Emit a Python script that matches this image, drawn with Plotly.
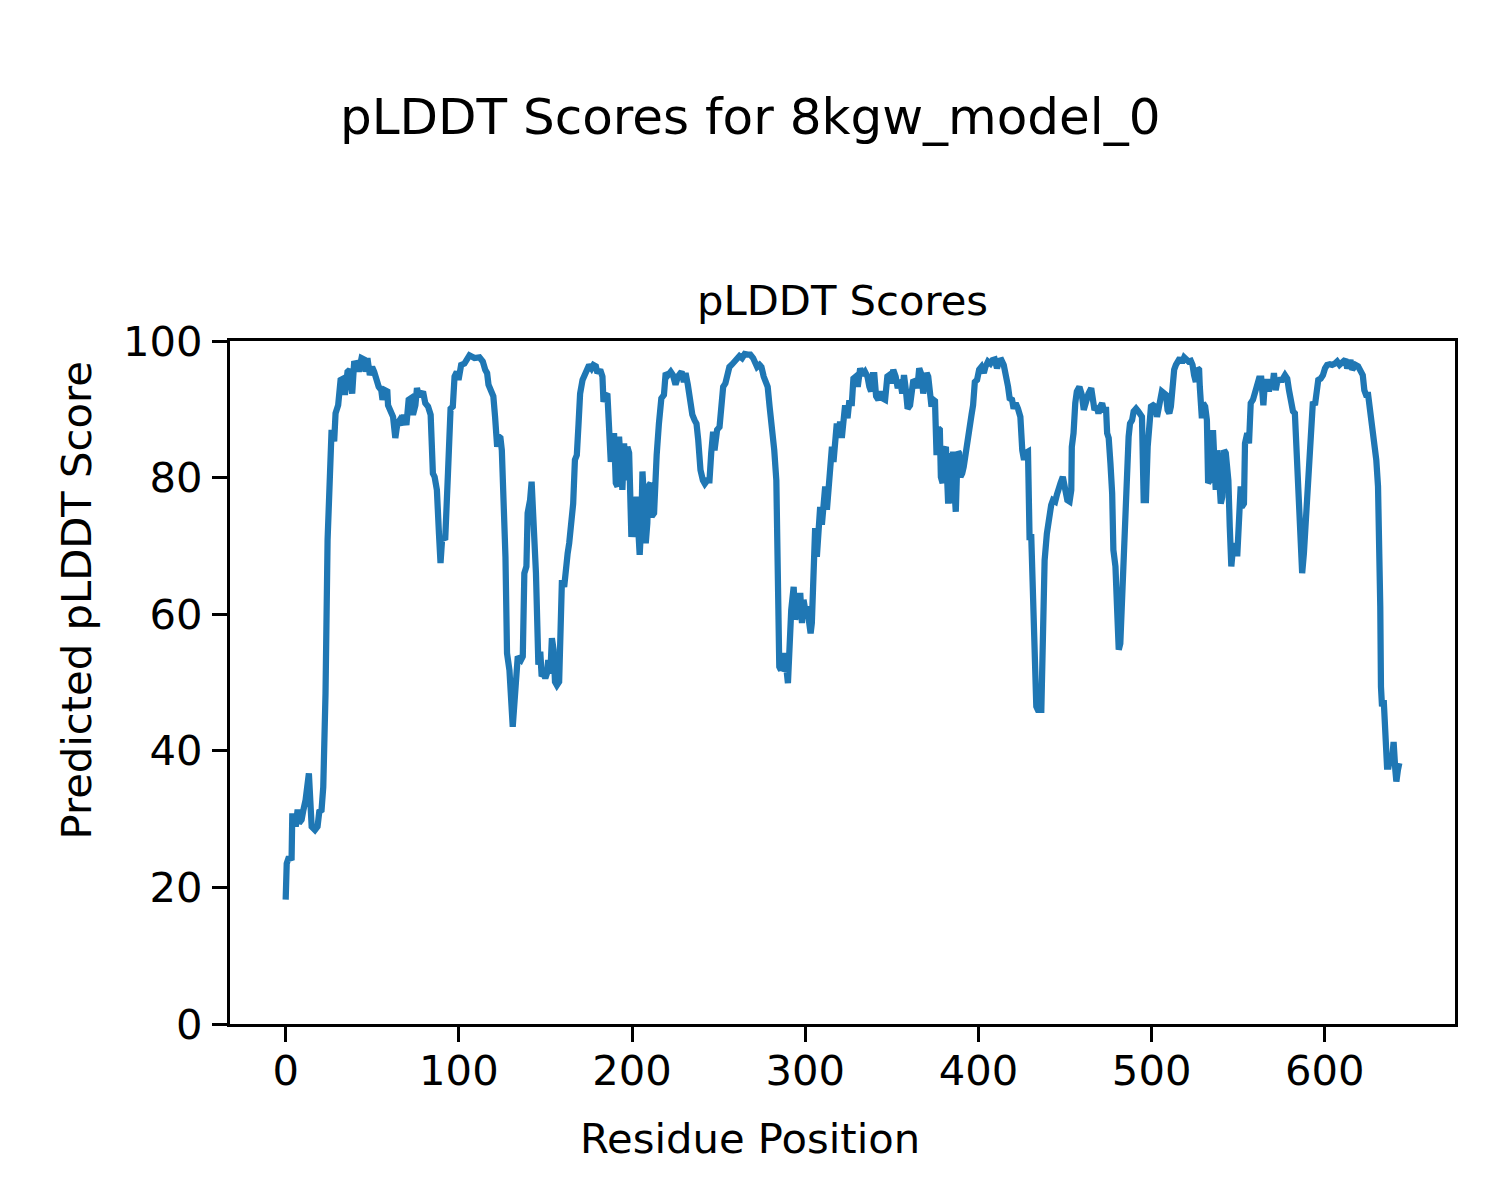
import plotly.graph_objects as go

# Residue positions
residue_positions = [
    0, 0.6, 1.9, 3.4, 3.8, 5.4, 5.8, 6.9, 7.7, 9.2, 10.2, 11.5, 13.4, 15.0, 16.9, 18.4, 19.4, 20.7, 21.7,
    23.0, 24.2, 25.5, 26.5, 28.0, 28.8, 30.3, 31.7, 33.2, 34.2, 35.7, 37.0, 38.4, 39.5, 41.5, 42.2, 43.8,
    45.3, 46.1, 47.2, 48.6, 49.9, 51.1, 52.4, 53.7, 55.2, 55.9, 57.2, 58.7, 59.1, 60.6, 62.0, 63.3, 64.5,
    65.8, 67.2, 68.3, 69.7, 71.0, 72.2, 73.5, 74.9, 75.8, 76.8, 77.9, 79.3, 80.6, 82.2, 83.7, 85.0, 86.0,
    87.3, 88.5, 89.4, 90.4, 92.1, 93.7, 95.2, 96.5, 97.5, 98.8, 99.8, 101.3,
    103.2, 106.1, 109.0, 111.9, 113.8, 115.2, 116.3, 117.1, 118.6, 119.9, 120.9, 122.1, 123.0, 124.0, 124.8,
    125.9, 126.9, 127.8, 129.2, 131.1, 132.4, 134.0, 135.9, 136.9, 137.8, 139.0, 139.7, 141.1, 142.0, 143.2,
    144.5, 145.9, 147.0, 147.8, 149.0, 149.9, 150.8, 151.6, 152.8, 153.7, 154.7, 155.5, 156.6, 157.9, 158.5,
    159.5, 160.8, 161.8, 162.8, 163.7, 164.7, 166.0, 167.0, 168.1, 169.1, 170.0, 171.4, 172.7, 173.9, 175.2,
    176.6, 177.7, 179.1, 180.0, 181.6, 182.9, 183.5, 184.8, 185.8, 186.7, 187.7, 188.7, 189.6, 190.6, 191.6,
    192.5, 193.5, 194.4, 195.4, 196.3, 197.3, 198.3, 199.6, 200.8, 201.5, 202.7, 203.5, 204.4, 205.4, 206.0,
    206.9, 207.9, 208.8, 209.4, 210.7, 211.3, 212.7,
    213.6, 214.2, 215.5, 216.9, 218.4, 219.4, 220.7, 222.3, 223.6, 225.1, 226.5, 227.6, 228.6, 229.9, 230.9,
    232.2, 233.8, 234.8, 236.1, 237.2, 238.2, 239.5, 240.9, 242.0, 243.4, 244.7, 245.7, 246.8, 247.6, 249.1,
    250.5, 251.4, 252.6, 253.9, 254.9, 256.2, 257.8, 259.1, 260.7, 262.0, 263.5, 265.0, 266.8, 268.3, 269.9,
    271.2, 272.2, 273.6, 274.7, 276.0, 277.4, 278.3, 279.4, 280.8, 282.1, 283.3, 284.3, 285.0, 286.0, 287.2,
    288.1, 289.0, 290.0, 290.9, 291.9, 293.3, 294.2, 295.2, 296.1, 297.1, 298.1, 299.0, 300.0, 301.0, 301.9,
    303.1, 303.8, 304.8, 305.7, 306.7, 307.7, 308.6, 309.6, 310.6, 311.5, 312.5, 313.4, 314.4, 315.4, 316.3,
    317.3, 318.2, 319.2, 320.1,
    321.1, 322.1, 323.0, 324.4, 325.3, 326.9, 327.8, 329.2, 330.3, 331.7, 333.0, 334.5, 335.9, 337.0, 338.0,
    339.0, 339.9, 340.9, 342.2, 343.6, 344.7, 346.1, 347.4, 348.5, 349.5, 350.8, 352.2, 353.4, 354.7, 356.0,
    357.0, 358.1, 359.1, 360.5, 361.4, 362.4, 363.7, 364.7, 365.8, 367.2, 368.1, 369.1, 370.1, 371.0, 372.0,
    372.9, 373.9, 374.9, 375.8, 376.8, 377.7, 378.3, 379.3, 380.2, 381.2, 381.9, 382.5, 383.5, 384.1, 384.8,
    385.4, 386.4, 386.9, 387.7, 388.3, 388.8, 389.6, 390.6, 391.5, 392.5, 393.5, 394.6, 396.0, 396.9, 397.9,
    399.2, 400.4, 401.7, 403.1, 404.0, 405.5, 406.9, 408.1, 409.4, 410.7, 411.9, 413.3, 414.6, 415.7, 417.1,
    418.0, 419.4, 420.3, 421.5, 422.8, 424.2, 425.3, 426.3, 427.2, 428.6, 429.5, 430.5,
    433.4, 434.3, 436.3, 437.2, 438.2, 439.5, 440.7, 442.0, 443.0, 444.3, 445.3, 446.4, 447.4, 448.7, 450.1,
    451.3, 452.6, 453.6, 453.9, 454.9, 455.9, 456.8, 458.3, 459.7, 460.8, 462.2, 463.5, 465.1, 466.0, 467.0,
    468.3, 469.3, 470.3, 471.4, 472.3, 473.7, 474.3, 475.2, 476.2, 477.2, 477.9, 479.1, 480.0, 481.0, 481.9,
    482.9, 483.9, 484.8, 485.8, 486.7, 487.5, 488.7, 489.6, 491.0, 492.3, 493.5, 494.4, 495.4, 496.7, 497.7,
    498.6, 499.6, 500.9, 502.1, 503.1, 504.0, 505.0, 505.9, 507.3, 508.3, 509.2, 510.2, 511.1, 512.1, 513.0,
    514.0, 515.3, 516.3, 517.5, 518.8, 520.1, 521.3, 522.6, 523.6, 524.5, 525.5, 526.5, 527.4, 527.8, 529.0,
    529.7, 530.9, 531.9, 532.6, 533.6, 534.5, 535.5, 536.1, 537.0, 538.0,
    539.9, 540.8, 541.8, 542.8, 544.3, 545.1, 546.0, 547.2, 548.5, 549.5, 550.5, 551.4, 552.0, 553.3, 553.9,
    555.2, 556.2, 557.2, 558.5, 559.7, 561.0, 562.0, 563.3, 564.5, 565.4, 566.8, 567.7, 568.7, 569.7, 570.6,
    571.6, 572.5, 573.9, 575.4, 577.0, 578.3, 579.3, 580.6, 581.6, 582.7, 583.7, 584.6, 585.6, 586.9, 587.9,
    588.9, 589.8, 591.2, 592.4, 593.1, 594.3, 595.1, 596.2, 597.6, 598.9, 600.1, 601.3, 602.9, 604.2, 605.8,
    607.1, 608.5, 609.6, 611.0, 611.9, 612.9, 613.8, 614.8, 615.8, 616.7, 617.7, 619.2, 620.6, 621.9, 622.8,
    623.8, 625.0, 626.3, 627.6, 628.8, 629.7, 630.7, 631.5, 632.0, 632.4, 633.0, 634.0, 634.9, 635.9, 636.8,
    637.8, 638.8, 639.7, 640.7, 641.3, 642.2, 643.0,
]

# pLDDT scores
plddt_scores = [
    18.2, 23.5, 24.5, 24.0, 30.4, 30.4, 28.9, 31.4, 29.4, 29.9, 31.3, 32.8, 36.7, 28.9, 28.4, 28.9, 31.1, 31.3, 34.7,
    48.4, 70.9, 85.5, 87.0, 85.3, 89.4, 90.6, 94.3, 94.5, 92.1, 95.5, 95.8, 92.3, 96.7, 96.8, 95.5, 97.5,
    97.3, 95.5, 97.5, 95.0, 96.2, 95.5, 94.0, 93.3, 92.8, 91.4, 92.8, 92.6, 90.6, 89.7, 88.9, 85.8, 87.9,
    88.4, 87.7, 89.2, 87.7, 91.4, 91.6, 89.2, 90.6, 93.1, 92.1, 92.1, 92.6, 90.9, 90.4, 89.2, 80.6, 80.1,
    78.2, 71.8, 67.5, 71.3, 70.9, 80.6, 90.1, 90.4, 94.8, 95.5, 94.3, 96.5,
    96.7, 97.9, 97.5, 97.6, 97.0, 95.8, 95.3, 93.6, 92.6, 91.9, 88.9, 84.5, 86.0, 85.8, 84.0,
    78.2, 68.4, 54.3, 51.8, 43.5, 47.9, 53.8, 53.3, 53.8, 66.0, 67.0, 74.8, 76.7, 79.4, 73.3,
    66.0, 52.6, 54.5, 50.9, 51.3, 50.6, 51.3, 53.3, 51.3, 56.5, 54.8, 50.1, 49.6, 50.1, 53.8,
    65.0, 64.0, 68.4, 68.9, 70.4, 72.8, 76.2, 82.6, 83.3, 87.9, 92.3, 94.3, 95.3, 96.2, 96.5,
    96.0, 96.5, 96.3, 95.3, 95.8, 94.8, 91.1, 92.1, 92.0, 86.5, 82.3, 85.0, 86.5, 79.2, 78.7,
    86.0, 79.6, 78.2, 85.0, 79.6, 84.5, 83.6, 71.3, 77.2, 71.3, 77.2, 72.8, 68.7, 73.8, 80.9,
    76.7, 70.4, 73.3, 78.7, 79.2, 74.3, 74.8,
    82.1, 83.3, 87.9, 91.6, 92.1, 95.3, 95.0, 95.5, 95.0, 93.6, 94.8, 95.3, 95.5, 94.0, 95.3,
    93.6, 90.6, 89.2, 88.4, 87.9, 85.5, 81.1, 79.6, 79.1, 79.6, 79.6, 83.6, 86.7, 84.0, 87.0,
    87.4, 91.4, 93.3, 93.8, 95.3, 96.2, 96.6, 97.0, 97.2, 97.8, 97.5, 98.1, 98.0, 98.0, 97.5,
    97.0, 96.2, 96.5, 96.2, 94.8, 94.0, 93.3, 90.4, 87.5, 84.0, 79.6, 66.0, 52.3, 51.8, 54.3,
    51.6, 52.3, 49.9, 59.2, 60.6, 64.0, 59.2, 60.6, 59.6, 63.1, 58.7, 62.1, 60.6, 61.1, 59.6,
    57.2, 58.7, 66.0, 72.6, 68.4, 73.1, 75.7, 73.1, 76.0, 78.7, 75.3, 78.7, 79.2, 84.5, 82.3,
    85.0, 87.9, 86.0, 88.2,
    85.8, 89.9, 90.6, 88.7, 90.9, 90.9, 94.5, 94.8, 93.3, 96.0, 95.0, 95.5, 94.8, 93.3, 92.6,
    95.0, 95.0, 91.9, 91.4, 92.6, 91.6, 91.4, 94.8, 95.0, 93.8, 95.8, 94.8, 93.1, 94.3, 92.3,
    95.0, 92.8, 90.1, 90.6, 92.8, 94.3, 94.0, 93.1, 96.0, 95.0, 92.3, 94.3, 95.3, 94.8, 90.9,
    90.4, 91.4, 91.2, 83.3, 87.2, 87.0, 80.1, 79.2, 84.0, 84.5, 80.6, 76.2, 80.6, 83.6, 76.2,
    83.8, 77.2, 75.0, 81.6, 83.8, 83.6, 80.1, 80.6, 81.6, 83.6, 86.0, 87.7, 89.2, 90.6, 94.0,
    94.3, 95.8, 96.2, 95.3, 96.2, 97.0, 96.7, 97.2, 97.3, 96.0, 97.1, 97.2, 96.5, 95.3, 93.3,
    91.6, 91.4, 90.1, 90.9, 90.1, 88.9, 84.0, 82.6, 83.6, 83.8, 71.3, 71.3,
    46.5, 46.0, 46.0, 56.2, 67.9, 71.8, 74.3, 76.0, 76.7, 76.5, 77.5, 78.7, 79.2, 80.1, 78.7,
    76.7, 76.5, 78.2, 84.5, 86.5, 90.9, 92.6, 93.3, 92.1, 89.9, 91.6, 92.3, 93.1, 90.9, 89.9,
    90.4, 89.4, 90.4, 90.9, 89.9, 89.9, 86.5, 85.8, 82.1, 77.7, 69.4, 67.0, 61.1, 54.8, 55.7,
    62.1, 70.9, 79.2, 81.1, 86.0, 87.9, 88.4, 89.7, 90.1, 89.7, 89.2, 88.9, 76.7, 76.7, 84.5,
    87.7, 90.4, 90.6, 90.4, 88.9, 89.7, 91.4, 92.6, 92.3, 92.1, 89.9, 89.4, 90.4, 94.8, 95.8,
    96.5, 97.2, 97.5, 96.8, 97.6, 97.3, 97.0, 97.1, 96.5, 95.0, 94.0, 96.0, 95.8, 93.3, 88.7,
    90.9, 90.4, 88.4, 79.2, 79.6, 86.5, 86.5, 80.1, 78.2, 84.0,
    76.2, 77.2, 84.0, 83.6, 79.6, 72.8, 67.0, 70.4, 68.9, 68.9, 78.2, 78.7, 75.7, 76.2, 85.0,
    86.5, 85.0, 90.9, 91.4, 92.3, 93.3, 94.5, 94.5, 90.6, 94.0, 94.0, 92.6, 94.3, 93.3, 95.3,
    92.8, 94.0, 94.3, 94.3, 95.0, 94.5, 92.8, 90.4, 89.7, 89.4, 84.5, 78.2, 73.8, 66.0, 68.9,
    73.3, 78.2, 84.0, 89.9, 91.1, 90.6, 93.3, 94.3, 94.5, 95.0, 96.0, 96.5, 96.6, 96.5, 96.7,
    97.0, 96.5, 96.7, 97.0, 97.3, 96.0, 96.7, 97.2, 95.8, 96.0, 96.5, 96.3, 95.8, 95.0, 92.8,
    92.1, 92.1, 89.9, 87.5, 85.0, 82.6, 78.7, 70.9, 61.1, 49.4, 46.5, 47.4, 40.1, 37.7, 37.7,
    39.1, 38.6, 41.3, 37.2, 35.5, 37.2, 38.2,
]

x_tick_values = [0, 100, 200, 300, 400, 500, 600]
y_tick_values = [0, 20, 40, 60, 80, 100]

figure_title = "pLDDT Scores for 8kgw_model_0"
axes_title = "pLDDT Scores"
x_label = "Residue Position"
y_label = "Predicted pLDDT Score"

FONT = "DejaVu Sans"
W, H = 1500, 1200
OFF = 8  # page body margin of the html page
# target plot box on screen: left 230, right 1455, top 341, bottom 1024
L = 230 - OFF
T = 341 - OFF
R = W - (1455 - OFF)
B = H - (1024 - OFF)
plot_w = W - L - R
plot_h = H - T - B


def px_to_paper_x(px):
    return (px - OFF - L) / plot_w


def py_to_paper_y(py):
    return (H - B - (py - OFF)) / plot_h


fig = go.Figure()
fig.add_trace(go.Scatter(
    x=residue_positions,
    y=plddt_scores,
    mode="lines",
    line=dict(color="#1f77b4", width=6.25),
    hoverinfo="x+y",
    showlegend=False,
))

axis_common = dict(
    showline=True, linecolor="black", linewidth=3.3, mirror=True,
    ticks="outside", ticklen=15, tickwidth=3.3, tickcolor="black",
    showgrid=False, zeroline=False,
    tickfont=dict(family=FONT, size=41.7, color="black"),
)

fig.update_layout(
    width=W, height=H,
    margin=dict(l=L, r=R, t=T, b=B, autoexpand=False),
    paper_bgcolor="white", plot_bgcolor="white",
    font=dict(family=FONT, color="black"),
    xaxis=dict(range=[-32.15, 675.15], tickvals=x_tick_values, ticklabelstandoff=-7, **axis_common),
    yaxis=dict(range=[0, 100], tickvals=y_tick_values, ticklabelstandoff=1, **axis_common),
    annotations=[
        dict(text=figure_title, x=px_to_paper_x(750), y=py_to_paper_y(117), xref="paper", yref="paper",
             xanchor="center", yanchor="middle", showarrow=False,
             font=dict(family=FONT, size=50, color="black")),
        dict(text=axes_title, x=0.5, y=py_to_paper_y(300.5), xref="paper", yref="paper",
             xanchor="center", yanchor="middle", showarrow=False,
             font=dict(family=FONT, size=41.7, color="black")),
        dict(text=x_label, x=px_to_paper_x(750), y=py_to_paper_y(1138), xref="paper", yref="paper",
             xanchor="center", yanchor="middle", showarrow=False,
             font=dict(family=FONT, size=41.7, color="black")),
        dict(text=y_label, x=px_to_paper_x(75.5), y=py_to_paper_y(600), xref="paper", yref="paper",
             xanchor="center", yanchor="middle", showarrow=False, textangle=-90,
             font=dict(family=FONT, size=41.7, color="black")),
    ],
)

fig.write_html("out.html")
